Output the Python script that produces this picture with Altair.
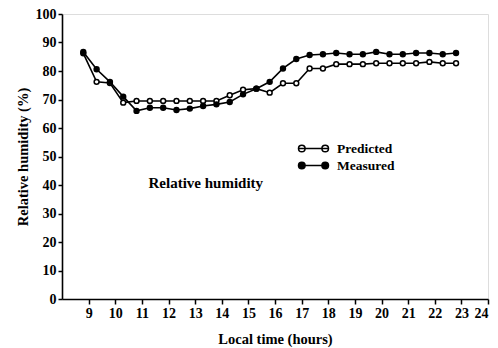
import altair as alt
import pandas as pd

hours = [8.8 + 0.5 * i for i in range(29)]
measured = [86.7, 80.6, 76.2, 71.0, 66.0, 67.1, 67.1, 66.3, 66.8, 67.7, 68.3, 69.1,
            71.8, 73.8, 76.2, 80.9, 84.2, 85.6, 85.9, 86.3, 85.9, 85.9, 86.7, 85.9,
            85.9, 86.3, 86.3, 85.9, 86.3]
predicted = [86.2, 76.2, 75.8, 68.9, 69.5, 69.5, 69.5, 69.5, 69.5, 69.5, 69.5, 71.5,
             73.4, 73.8, 72.4, 75.7, 75.7, 80.9, 80.9, 82.4, 82.4, 82.4, 82.7, 82.7,
             82.7, 82.7, 83.2, 82.7, 82.7]
series_names = ["Predicted", "Measured"]
x_ticks = list(range(9, 25))
y_ticks = list(range(0, 101, 10))
note_text = "Relative humidity"

rows = []
for h, v in zip(hours, predicted):
    rows.append({"hour": h, "rh": v, "series": "Predicted", "ord": 0})
for h, v in zip(hours, measured):
    rows.append({"hour": h, "rh": v, "series": "Measured", "ord": 1})
df = pd.DataFrame(rows)

FONT = "Liberation Serif"
axis_style = dict(labelFont=FONT, labelFontSize=14, labelFontWeight="bold", labelColor="black",
                  titleFont=FONT, titleFontSize=14.5, titleFontWeight="bold", titleColor="black",
                  domainColor="black", domainWidth=1.6, tickColor="black", tickWidth=1.5,
                  labelOverlap=False, grid=False)

x = alt.X("hour:Q", scale=alt.Scale(domain=[8, 24], nice=False, zero=False),
          axis=alt.Axis(values=x_ticks, title="Local time (hours)",
                        tickSize=5, labelPadding=2, titlePadding=12, **axis_style))
y = alt.Y("rh:Q", scale=alt.Scale(domain=[0, 100], nice=False),
          axis=alt.Axis(values=y_ticks, title="Relative humidity (%)",
                        tickSize=4, labelPadding=2, titlePadding=5, **axis_style))

base = alt.Chart(df)

lines = base.mark_line(color="black", strokeWidth=1.6).encode(
    x=x, y=y, detail="series:N", order=alt.Order("hour:Q"))

legend_path = ("M -2 0 L 2 0 "
               "M -1.12 0 A 0.44 0.44 0 1 0 -2.0 0 A 0.44 0.44 0 1 0 -1.12 0 "
               "M 2.0 0 A 0.44 0.44 0 1 0 1.12 0 A 0.44 0.44 0 1 0 2.0 0 Z")

points = base.mark_point(filled=False, size=24, stroke="black", strokeWidth=1.5,
                         opacity=1).encode(
    x=x, y=y,
    fill=alt.Fill("series:N",
                  scale=alt.Scale(domain=series_names, range=["white", "black"]),
                  legend=alt.Legend(title=None, orient="none", legendX=243, legendY=126,
                                    symbolType=legend_path, symbolSize=225,
                                    symbolStrokeColor="black", symbolStrokeWidth=1.5,
                                    labelFont=FONT, labelFontSize=13.5, labelFontWeight="bold",
                                    labelColor="black", labelOffset=15, rowPadding=2)),
    order=alt.Order("ord:Q"))

note_df = pd.DataFrame({"hour": [13.4], "rh": [40.8], "t": [note_text]})
note = alt.Chart(note_df).mark_text(
    font=FONT, fontSize=15, fontWeight="bold", color="black").encode(
    x=x, y=y, text="t:N")

chart = alt.layer(lines, points, note).properties(
    width=426, height=285,
    autosize=alt.AutoSizeParams(type="none"),
    padding={"left": 62, "top": 14, "right": 10, "bottom": 49},
).configure_view(stroke="black", strokeWidth=1.6).configure(background="white")

chart.save("out.html", embed_options={"renderer": "svg", "actions": False})
